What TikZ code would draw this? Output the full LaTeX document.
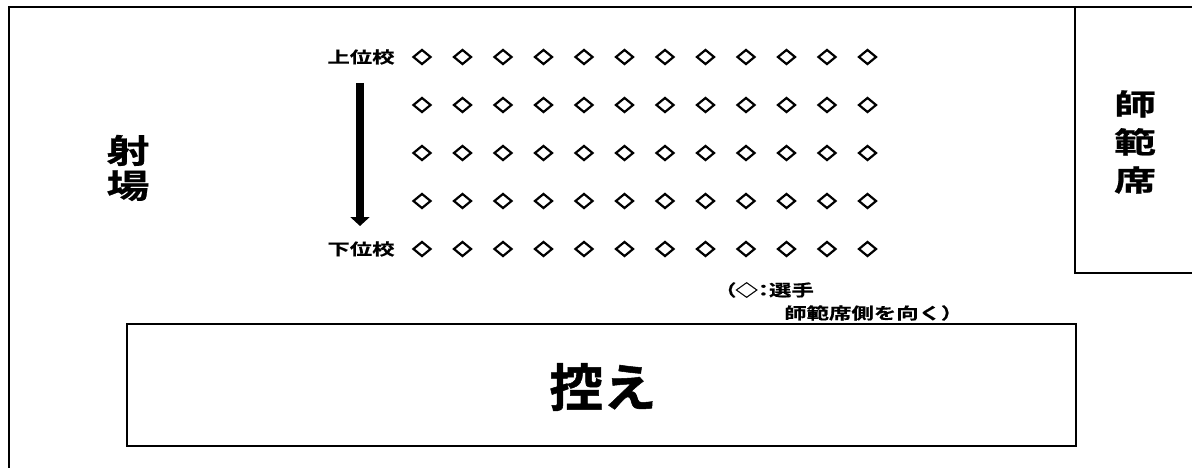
\documentclass[tikz,border=0pt]{standalone}
\usepackage{fontspec}
\setmainfont{Noto Sans CJK JP Bold}
\newfontfamily\jpsmall{Noto Sans CJK JP Bold}[FakeStretch=1.4,FakeBold=0.6]
\newfontfamily\jpnote{Noto Sans CJK JP Bold}[FakeStretch=1.4,FakeBold=0.6,RawFeature=+palt]
\newfontfamily\jpside{Noto Sans CJK JP Bold}[FakeStretch=1.3,FakeBold=0.8]
\newfontfamily\jpseat{Noto Sans CJK JP Bold}[FakeStretch=1.45,FakeBold=0.8]
\newfontfamily\jpbig{Noto Sans CJK JP Bold}[FakeStretch=1.05,FakeBold=1]
\usetikzlibrary{shapes.geometric,arrows.meta}
\tikzset{
  frame/.style={line width=1.6pt,draw=black},
  player/.style={shape=diamond,draw,line width=2.2pt,minimum width=18pt,minimum height=15pt,inner sep=0pt},
  lbl/.style={font=\jpsmall\fontsize{16}{18}\selectfont,inner sep=0pt},
  notelbl/.style={font=\jpnote\fontsize{16}{18}\selectfont,inner sep=0pt},
  side/.style={font=\jpside\fontsize{33}{35}\selectfont,inner sep=0pt,align=center},
  seat/.style={font=\jpseat\fontsize{29}{38}\selectfont,inner sep=0pt,align=center},
}
\begin{document}
\begin{tikzpicture}[x=1pt,y=-1pt]
\useasboundingbox (0,0) rectangle (1192,468);
% outer frame
\draw[frame] (9,470) -- (9,7) -- (1194,7);
% shihanseki box
\draw[frame] (1075,7) -- (1075,273) -- (1194,273);
\node[seat] (shihan) at (1135,142) {師\\範\\席};
% shajo
\node[side] (shajo) at (128,168) {射\\場};
% hikae
\draw[frame] (127,324) rectangle (1076,446);
\node[font=\jpbig\fontsize{51}{53}\selectfont,inner sep=0pt] (hikae) at (603,387) {控え};
% labels
\node[lbl] (upper) at (361,57) {上位校};
\node[lbl] (lower) at (361,249) {下位校};
% arrow
\coordinate (as) at (360,83);
\coordinate (ae) at (360,226);
\draw[line width=8pt,-{Triangle[width=19pt,length=9pt]}] (as) -- (ae);
% players
\foreach \r [count=\ri] in {57,105,153,201,249}{
  \foreach \c in {0,...,11}{
    \node[player] (p\ri-\c) at (422+\c*40.5,\r) {};
  }
}
% note
\node[notelbl,anchor=west] (note1) at (724,290) {（◇：選手};
\node[lbl,anchor=west] (note2) at (784,313) {師範席側を向く）};
\end{tikzpicture}
\end{document}
